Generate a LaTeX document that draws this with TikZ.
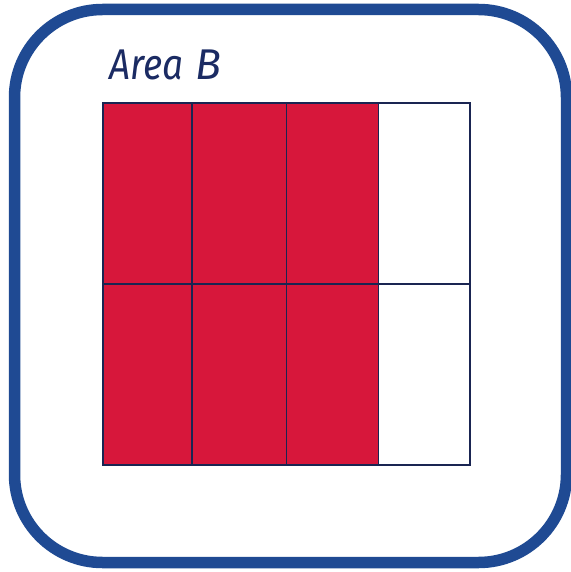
\documentclass[tikz,border=0pt]{standalone}
\usepackage{fontspec}
\setmainfont{Fira Sans}
\definecolor{borderblue}{HTML}{1F4A93}
\definecolor{gridnavy}{HTML}{1A2552}
\definecolor{fillred}{HTML}{D7173B}
\definecolor{textnavy}{HTML}{1B2B63}
\tikzset{
  cellred/.style={fill=fillred, draw=gridnavy, line width=1.6pt},
  cellwhite/.style={fill=white, draw=gridnavy, line width=1.6pt},
  label text/.style={anchor=base west, inner sep=0pt, text=textnavy, font=\fontsize{43}{43}\selectfont\itshape},
}
\begin{document}
\begin{tikzpicture}[x=1pt,y=-1pt]
\useasboundingbox (0,0) rectangle (570,572);
\fill[white] (0,0) rectangle (570,572);
\draw[borderblue, line width=11.5pt, rounded corners=88pt] (14.5,9.5) rectangle (566.5,562.5);
\node[label text] (title) at (109,80) {\scalebox{0.86}[1]{Area}};
\node[label text] (titleB) at (195,80) {B};
\path[cellred] (103,103) rectangle (192,284);
\path[cellred] (192,103) rectangle (286.5,284);
\path[cellred] (286.5,103) rectangle (378.5,284);
\path[cellwhite] (378.5,103) rectangle (470,284);
\path[cellred] (103,284) rectangle (192,465);
\path[cellred] (192,284) rectangle (286.5,465);
\path[cellred] (286.5,284) rectangle (378.5,465);
\path[cellwhite] (378.5,284) rectangle (470,465);
\end{tikzpicture}
\end{document}
